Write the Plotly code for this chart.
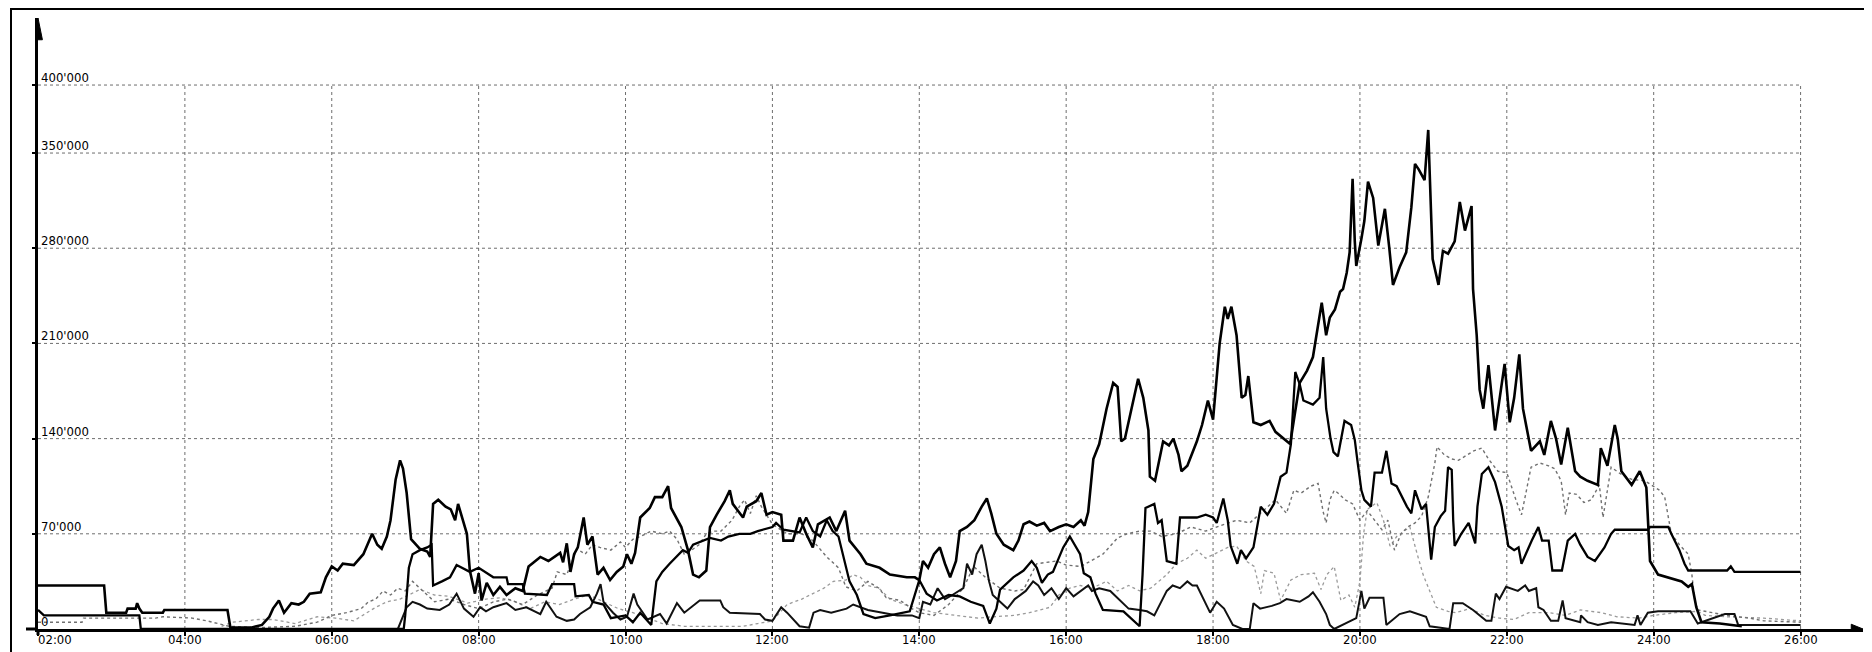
import plotly.graph_objects as go

# ---------------- data (hours of day, values in thousands) ----------------
x_tick_hours = [2, 4, 6, 8, 10, 12, 14, 16, 18, 20, 22, 24, 26]
x_tick_labels = ["02:00", "04:00", "06:00", "08:00", "10:00", "12:00", "14:00",
                 "16:00", "18:00", "20:00", "22:00", "24:00", "26:00"]
y_tick_values = [0, 70000, 140000, 210000, 280000, 350000, 400000]
y_tick_labels = ["0", "70'000", "140'000", "210'000", "280'000", "350'000", "400'000"]

series_a = [(2.0, 32), (2.9, 32), (2.93, 12), (3.2, 12), (3.22, 15), (3.33, 15), (3.35, 19), (3.38, 15),
            (3.42, 12), (3.7, 12), (3.72, 14), (4.58, 14), (4.62, 1), (4.9, 1), (5.05, 3), (5.15, 9),
            (5.2, 15), (5.28, 21), (5.35, 12), (5.45, 19), (5.55, 18), (5.62, 20), (5.7, 26), (5.85, 27),
            (5.92, 38), (6.0, 46), (6.08, 43), (6.15, 48), (6.3, 47), (6.43, 55), (6.55, 70), (6.62, 62),
            (6.68, 59), (6.75, 68), (6.8, 80), (6.87, 110), (6.93, 124), (6.97, 118), (7.02, 100),
            (7.08, 66), (7.2, 59), (7.3, 57), (7.34, 53), (7.38, 92), (7.45, 95), (7.55, 90), (7.62, 88),
            (7.68, 80), (7.72, 92), (7.77, 82), (7.84, 70), (7.88, 43), (7.95, 26), (8.0, 41), (8.04, 21),
            (8.11, 34), (8.2, 25), (8.29, 31), (8.38, 25), (8.5, 30), (8.6, 28), (8.68, 46), (8.84, 53),
            (8.95, 50), (9.11, 56), (9.15, 49), (9.2, 63), (9.25, 42), (9.3, 55), (9.35, 60), (9.43, 82),
            (9.48, 62), (9.55, 68), (9.62, 40), (9.7, 45), (9.79, 36), (9.88, 42), (9.97, 46), (10.02, 55),
            (10.08, 48), (10.13, 56), (10.2, 82), (10.33, 89), (10.4, 97), (10.5, 97), (10.58, 105),
            (10.62, 89), (10.76, 75), (10.85, 58), (10.92, 40), (11.0, 38), (11.1, 43), (11.15, 75),
            (11.24, 84), (11.35, 94), (11.42, 102), (11.46, 92), (11.6, 82), (11.65, 90), (11.78, 94),
            (11.85, 100), (11.92, 84), (12.0, 86), (12.12, 84), (12.15, 65), (12.28, 65), (12.37, 82),
            (12.46, 70), (12.55, 60), (12.62, 77), (12.78, 82), (12.87, 72), (12.99, 87), (13.05, 65),
            (13.2, 55), (13.28, 48), (13.46, 45), (13.6, 40), (13.83, 38), (13.94, 38), (14.0, 36),
            (14.05, 50), (14.12, 45), (14.2, 55), (14.28, 60), (14.35, 48), (14.42, 38), (14.5, 50),
            (14.55, 72), (14.65, 75), (14.75, 80), (14.85, 90), (14.92, 96), (14.98, 85), (15.05, 70),
            (15.15, 62), (15.28, 58), (15.35, 65), (15.42, 77), (15.5, 79), (15.6, 76), (15.7, 78),
            (15.78, 72), (15.9, 75), (16.0, 77), (16.1, 75), (16.2, 80), (16.25, 76), (16.3, 86),
            (16.37, 125), (16.45, 136), (16.55, 162), (16.64, 181), (16.7, 178), (16.75, 138), (16.8, 140),
            (16.87, 157), (16.98, 184), (17.05, 170), (17.12, 146), (17.14, 112), (17.21, 109), (17.32, 138),
            (17.4, 135), (17.46, 140), (17.53, 128), (17.57, 116), (17.65, 120), (17.78, 138), (17.85, 150),
            (17.93, 168), (18.0, 154), (18.05, 185), (18.09, 210), (18.16, 237), (18.2, 228), (18.25, 237),
            (18.32, 216), (18.39, 170), (18.44, 172), (18.48, 186), (18.55, 152), (18.65, 150), (18.77, 153),
            (18.85, 145), (18.96, 140), (19.05, 136), (19.11, 157), (19.18, 181), (19.28, 190), (19.36, 200),
            (19.42, 220), (19.48, 240), (19.54, 216), (19.59, 229), (19.66, 235), (19.73, 248), (19.77, 250),
            (19.82, 262), (19.86, 277), (19.9, 331), (19.93, 285), (19.95, 267), (20.02, 287), (20.06, 300),
            (20.11, 329), (20.18, 317), (20.25, 282), (20.34, 309), (20.4, 280), (20.45, 253), (20.54, 266),
            (20.63, 277), (20.7, 310), (20.75, 342), (20.8, 338), (20.88, 330), (20.93, 367), (20.95, 335),
            (20.99, 272), (21.07, 253), (21.13, 278), (21.2, 276), (21.29, 285), (21.36, 314), (21.43, 293),
            (21.52, 311), (21.54, 250), (21.59, 216), (21.63, 176), (21.68, 162), (21.75, 194), (21.84, 146),
            (21.9, 170), (21.97, 195), (22.04, 152), (22.1, 170), (22.17, 202), (22.22, 162), (22.33, 131),
            (22.4, 135), (22.45, 138), (22.51, 128), (22.6, 153), (22.67, 140), (22.74, 121), (22.83, 148),
            (22.93, 116), (23.0, 112), (23.1, 109), (23.24, 106), (23.28, 133), (23.37, 120), (23.47, 150),
            (23.51, 140), (23.56, 116), (23.7, 106), (23.81, 116), (23.9, 104), (23.95, 50), (24.06, 40),
            (24.2, 38), (24.38, 35), (24.47, 31), (24.52, 33), (24.58, 16), (24.65, 5), (24.9, 4), (25.2, 2)]

series_b = [(2.0, 14), (2.08, 10), (3.38, 10), (3.4, 0), (6.98, 0), (7.0, 10), (7.05, 45), (7.1, 55),
            (7.2, 58), (7.3, 60), (7.36, 62), (7.38, 32), (7.5, 35), (7.61, 38), (7.7, 47), (7.8, 44),
            (7.88, 42), (8.0, 45), (8.2, 38), (8.38, 38), (8.4, 33), (8.6, 33), (8.63, 26), (8.93, 25),
            (9.0, 33), (9.3, 33), (9.32, 24), (9.5, 25), (9.55, 20), (9.7, 18), (9.8, 8), (10.0, 10),
            (10.1, 5), (10.2, 12), (10.35, 3), (10.42, 35), (10.5, 42), (10.6, 48), (10.78, 58), (10.85, 56),
            (10.92, 62), (11.15, 67), (11.3, 65), (11.4, 68), (11.55, 70), (11.7, 70), (11.8, 72), (12.0, 75),
            (12.05, 78), (12.15, 73), (12.37, 71), (12.46, 82), (12.55, 72), (12.65, 68), (12.74, 80),
            (12.82, 72), (12.9, 68), (13.05, 35), (13.15, 25), (13.24, 11), (13.4, 8), (13.6, 10),
            (13.87, 13), (14.0, 36), (14.1, 26), (14.24, 21), (14.4, 25), (14.55, 24), (14.7, 20),
            (14.87, 17), (14.96, 4), (15.05, 15), (15.1, 29), (15.28, 38), (15.42, 43), (15.53, 50),
            (15.6, 45), (15.67, 34), (15.75, 40), (15.82, 42), (15.96, 60), (16.05, 68), (16.12, 62),
            (16.19, 55), (16.24, 41), (16.33, 38), (16.4, 26), (16.5, 14), (16.78, 13), (16.92, 6),
            (17.0, 2), (17.04, 40), (17.08, 89), (17.2, 92), (17.25, 78), (17.3, 80), (17.37, 50),
            (17.5, 48), (17.55, 82), (17.78, 82), (17.9, 84), (18.0, 82), (18.05, 78), (18.14, 96),
            (18.2, 80), (18.24, 61), (18.33, 48), (18.38, 58), (18.45, 52), (18.55, 60), (18.65, 90),
            (18.74, 84), (18.83, 92), (18.92, 112), (19.0, 115), (19.06, 136), (19.12, 189), (19.18, 180),
            (19.23, 168), (19.36, 165), (19.45, 170), (19.5, 200), (19.54, 162), (19.6, 140), (19.64, 130),
            (19.7, 127), (19.79, 153), (19.88, 150), (19.93, 139), (19.97, 122), (20.02, 102), (20.06, 95),
            (20.15, 90), (20.2, 115), (20.3, 115), (20.36, 131), (20.43, 107), (20.5, 105), (20.64, 90),
            (20.7, 85), (20.75, 102), (20.84, 88), (20.9, 92), (20.97, 51), (21.02, 75), (21.1, 83),
            (21.16, 87), (21.2, 119), (21.25, 117), (21.27, 80), (21.29, 61), (21.38, 70), (21.48, 78),
            (21.57, 63), (21.6, 90), (21.66, 114), (21.75, 119), (21.84, 108), (21.93, 90), (22.02, 61),
            (22.1, 58), (22.16, 60), (22.2, 48), (22.34, 65), (22.43, 75), (22.48, 65), (22.57, 65),
            (22.62, 43), (22.75, 43), (22.83, 65), (22.93, 70), (23.0, 62), (23.1, 53), (23.2, 50),
            (23.33, 60), (23.42, 70), (23.47, 73), (23.92, 73), (23.95, 75), (24.2, 75), (24.24, 70),
            (24.35, 58), (24.42, 48), (24.47, 43), (25.0, 43), (25.05, 46), (25.1, 42), (26.0, 42)]

series_c = [(4.6, 0), (6.9, 0), (7.02, 16), (7.1, 20), (7.2, 18), (7.3, 15), (7.47, 14), (7.6, 18),
            (7.7, 26), (7.8, 15), (7.93, 9), (8.02, 16), (8.1, 13), (8.2, 16), (8.38, 19), (8.5, 14),
            (8.65, 16), (8.84, 11), (8.92, 20), (9.06, 9), (9.2, 6), (9.3, 7), (9.38, 11), (9.52, 16),
            (9.61, 26), (9.66, 33), (9.7, 20), (9.83, 12), (9.93, 7), (10.02, 9), (10.11, 26), (10.16, 18),
            (10.3, 7), (10.47, 11), (10.56, 4), (10.7, 19), (10.8, 12), (11.01, 21), (11.29, 21),
            (11.33, 16), (11.42, 12), (11.83, 11), (11.9, 7), (12.0, 6), (12.12, 16), (12.2, 12),
            (12.37, 2), (12.5, 1), (12.56, 12), (12.65, 14), (12.8, 12), (13.01, 15), (13.1, 18),
            (13.3, 14), (13.5, 12), (13.7, 10), (13.9, 10), (14.0, 8), (14.05, 20), (14.15, 18),
            (14.25, 30), (14.35, 22), (14.45, 25), (14.6, 30), (14.65, 48), (14.72, 40), (14.78, 55),
            (14.85, 62), (14.9, 50), (14.95, 35), (15.0, 25), (15.1, 20), (15.2, 15), (15.3, 22),
            (15.45, 28), (15.55, 35), (15.62, 32), (15.7, 25), (15.8, 30), (15.9, 22), (16.0, 30),
            (16.1, 24), (16.2, 28), (16.3, 32), (16.35, 28), (16.45, 30), (16.6, 28), (16.75, 20),
            (16.85, 15), (17.0, 14), (17.1, 13), (17.2, 10), (17.3, 20), (17.37, 28), (17.45, 32),
            (17.55, 30), (17.65, 35), (17.72, 32), (17.78, 32), (17.96, 12), (18.05, 20), (18.15, 15),
            (18.27, 3), (18.4, 0), (18.5, 0), (18.55, 19), (18.64, 15), (18.8, 17), (18.91, 19),
            (19.0, 22), (19.18, 20), (19.3, 24), (19.36, 27), (19.45, 20), (19.54, 11), (19.59, 3),
            (19.65, 0), (19.95, 8), (20.02, 28), (20.06, 15), (20.13, 23), (20.32, 23), (20.36, 3),
            (20.5, 9), (20.54, 11), (20.68, 13), (20.9, 9), (20.95, 2), (21.22, 0), (21.27, 19),
            (21.4, 19), (21.54, 14), (21.72, 6), (21.79, 6), (21.85, 26), (21.9, 22), (21.99, 31),
            (22.15, 28), (22.25, 32), (22.3, 28), (22.4, 30), (22.43, 16), (22.5, 14), (22.6, 6),
            (22.7, 6), (22.76, 21), (22.8, 8), (23.0, 5), (23.01, 10), (23.1, 5), (23.24, 3), (23.42, 5),
            (23.6, 4), (23.74, 3), (23.78, 10), (23.82, 3), (23.92, 12), (24.06, 13), (24.5, 13),
            (24.6, 4), (24.97, 11), (25.1, 11), (25.15, 3), (25.8, 3), (26.0, 3)]

series_d = [(2.0, 5), (2.6, 5), (2.62, 8), (3.6, 8), (3.7, 9), (4.1, 8), (4.3, 6), (4.6, 2), (5.0, 1),
            (5.5, 2), (5.8, 5), (6.0, 10), (6.2, 12), (6.4, 15), (6.5, 20), (6.6, 22), (6.7, 28), (6.8, 25),
            (6.9, 30), (7.0, 28), (7.1, 35), (7.2, 30), (7.3, 25), (7.4, 20), (7.6, 22), (7.8, 18), (8.0, 15),
            (8.2, 20), (8.4, 22), (8.6, 18), (8.8, 25), (9.0, 30), (9.07, 42), (9.2, 40), (9.34, 59),
            (9.45, 55), (9.55, 62), (9.65, 60), (9.8, 58), (9.93, 64), (10.0, 60), (10.1, 66), (10.2, 68),
            (10.35, 72), (10.5, 70), (10.6, 72), (10.7, 66), (10.8, 55), (10.9, 58), (11.0, 62), (11.1, 70),
            (11.2, 72), (11.3, 72), (11.45, 80), (11.55, 90), (11.62, 95), (11.7, 85), (11.78, 98),
            (11.85, 90), (12.0, 77), (12.2, 70), (12.4, 70), (12.55, 65), (12.74, 53), (12.9, 45),
            (13.0, 31), (13.15, 28), (13.3, 35), (13.45, 30), (13.55, 23), (13.74, 21), (13.9, 15),
            (14.0, 12), (14.2, 10), (14.4, 18), (14.6, 30), (14.74, 46), (14.9, 38), (15.1, 30), (15.3, 28),
            (15.42, 29), (15.6, 48), (15.87, 50), (16.0, 47), (16.2, 46), (16.5, 55), (16.7, 67),
            (16.83, 70), (17.0, 72), (17.15, 72), (17.3, 68), (17.5, 70), (17.7, 75), (17.9, 72),
            (18.1, 76), (18.32, 80), (18.5, 78), (18.7, 88), (18.85, 95), (19.0, 85), (19.1, 102),
            (19.2, 100), (19.33, 105), (19.43, 107), (19.5, 86), (19.54, 78), (19.59, 95), (19.65, 102),
            (19.7, 100), (19.8, 95), (19.9, 92), (20.0, 80), (20.1, 87), (20.3, 73), (20.38, 80),
            (20.47, 58), (20.56, 70), (20.65, 75), (20.75, 78), (20.84, 83), (20.93, 97), (21.02, 122),
            (21.05, 134), (21.15, 128), (21.25, 125), (21.34, 124), (21.48, 129), (21.55, 131),
            (21.66, 133), (21.75, 125), (21.88, 116), (22.0, 115), (22.13, 94), (22.2, 84), (22.26, 100),
            (22.33, 119), (22.45, 122), (22.57, 120), (22.65, 118), (22.74, 109), (22.8, 84), (22.85, 100),
            (22.95, 99), (23.05, 93), (23.15, 95), (23.26, 106), (23.31, 82), (23.36, 100), (23.42, 119),
            (23.55, 114), (23.7, 110), (23.88, 109), (24.08, 102), (24.15, 97), (24.24, 70), (24.35, 62),
            (24.47, 55), (24.52, 40), (24.56, 21), (24.6, 14), (25.0, 10), (25.3, 8), (25.5, 6), (26.0, 5)]

series_e = [(4.5, 2), (4.65, 5), (5.0, 7), (5.2, 7), (5.5, 4), (5.8, 9), (6.05, 8), (6.3, 6), (6.6, 16),
            (6.75, 20), (6.93, 22), (7.2, 29), (7.4, 25), (7.6, 24), (7.85, 19), (8.1, 22), (8.3, 23),
            (8.5, 20), (8.7, 15), (8.9, 20), (9.1, 18), (9.3, 22), (9.5, 25), (9.7, 20), (9.9, 15),
            (10.1, 12), (10.3, 8), (10.5, 4), (10.8, 2), (11.0, 2), (11.6, 2), (11.8, 4), (12.0, 6),
            (12.2, 18), (12.4, 22), (12.55, 26), (12.7, 30), (12.83, 35), (13.0, 36), (13.1, 40),
            (13.2, 38), (13.3, 32), (13.45, 30), (13.6, 22), (13.8, 18), (14.0, 15), (14.2, 12),
            (14.5, 10), (14.8, 8), (15.0, 9), (15.3, 10), (15.5, 12), (15.78, 16), (15.9, 25), (16.05, 30),
            (16.19, 32), (16.35, 30), (16.55, 35), (16.7, 28), (16.85, 32), (17.0, 28), (17.15, 30),
            (17.37, 40), (17.5, 48), (17.65, 52), (17.78, 58), (17.9, 52), (18.05, 56), (18.2, 60),
            (18.32, 61), (18.45, 50), (18.56, 46), (18.65, 26), (18.7, 43), (18.83, 41), (18.92, 21),
            (19.06, 36), (19.2, 40), (19.38, 41), (19.47, 29), (19.55, 40), (19.65, 46), (19.74, 21),
            (19.85, 25), (19.93, 16), (20.0, 35), (20.05, 70), (20.1, 88), (20.23, 93), (20.32, 80),
            (20.41, 61), (20.5, 68), (20.6, 72), (20.68, 75), (20.78, 55), (20.86, 40), (20.95, 28),
            (21.04, 16), (21.2, 13), (21.3, 12), (21.5, 15), (21.7, 10), (21.9, 8), (22.1, 7), (22.3, 12),
            (22.57, 12), (22.8, 10), (23.0, 14), (23.29, 12), (23.5, 9), (23.8, 8), (24.0, 10), (24.3, 12),
            (24.6, 13), (24.7, 10), (25.0, 9), (25.5, 8), (26.0, 6)]

# ---------------- figure ----------------
# the page adds an 8 px body margin, so the figure is laid out 8 px up/left
W, H = 1872, 652
L, R, T, B = 30, 17, 10, 31
X_MAX = 26.85
Y_MAX = 449300

styles = [
    (series_e, dict(color="#9a9a9a", width=1.3, dash="dot")),
    (series_d, dict(color="#707070", width=1.4, dash="dot")),
    (series_c, dict(color="#111111", width=2.0)),
    (series_b, dict(color="#000000", width=2.3)),
    (series_a, dict(color="#000000", width=2.6)),
]

fig = go.Figure()
for pts, line in styles:
    t = [p[0] for p in pts]
    v = [p[1] * 1000 for p in pts]
    fig.add_trace(go.Scatter(x=t, y=v, mode="lines", line=line,
                             showlegend=False, hoverinfo="skip"))

shapes = []
grid = dict(color="#6e6e6e", width=1, dash="dot")
for yv in y_tick_values[1:]:
    shapes.append(dict(type="line", xref="x", yref="y", x0=2, x1=26, y0=yv, y1=yv,
                       line=grid, layer="below"))
for xv in x_tick_hours[1:]:
    shapes.append(dict(type="line", xref="x", yref="y", x0=xv, x1=xv, y0=0, y1=400000,
                       line=grid, layer="below"))
# arrow heads on the axes
shapes.append(dict(type="path", xref="x", yref="y", fillcolor="black", line=dict(color="black", width=1),
                   path=f"M {2-0.06},{Y_MAX-16000} L 2,{Y_MAX} L {2+0.06},{Y_MAX-16000} Z"))
shapes.append(dict(type="path", xref="x", yref="y", fillcolor="black", line=dict(color="black", width=1),
                   path=f"M {X_MAX-0.16},{-3500} L {X_MAX},0 L {X_MAX-0.16},{3500} Z"))

px_w = W - L - R
px_h = H - T - B


def px_x(fx):
    return (fx - L) / px_w


def px_y(fy):
    return (H - B - fy) / px_h


# scan frame lines
shapes.append(dict(type="line", xref="paper", yref="paper",
                   x0=px_x(3), x1=px_x(3), y0=px_y(H), y1=px_y(0),
                   line=dict(color="black", width=2)))
shapes.append(dict(type="line", xref="paper", yref="paper",
                   x0=px_x(3), x1=px_x(W), y0=px_y(1), y1=px_y(1),
                   line=dict(color="black", width=2)))
# axis stubs crossing at the origin
shapes.append(dict(type="line", xref="paper", yref="paper",
                   x0=px_x(L - 12), x1=0, y0=0, y1=0, line=dict(color="black", width=3)))
shapes.append(dict(type="line", xref="paper", yref="paper",
                   x0=0, x1=0, y0=px_y(H - B + 6), y1=0, line=dict(color="black", width=3)))

font = dict(family="Liberation Sans Narrow, DejaVu Sans Condensed, Arial Narrow, sans-serif",
            size=13, color="black")
annotations = []
for yv, lab in zip(y_tick_values, y_tick_labels):
    annotations.append(dict(x=2, y=yv, xref="x", yref="y", text=lab, showarrow=False,
                            xanchor="left", yanchor="bottom", xshift=1, yshift=-2, font=font))
for xv, lab in zip(x_tick_hours, x_tick_labels):
    annotations.append(dict(x=xv, y=0, xref="x", yref="y", text=lab, showarrow=False,
                            xanchor="left" if xv == 2 else "center", yanchor="top",
                            xshift=-2 if xv == 2 else 0, yshift=-1, font=font))

fig.update_layout(
    width=W, height=H, autosize=False,
    margin=dict(l=L, r=R, t=T, b=B, pad=0),
    paper_bgcolor="white", plot_bgcolor="white",
    shapes=shapes, annotations=annotations,
    xaxis=dict(range=[2, X_MAX], showgrid=False, zeroline=False, showline=True,
               linecolor="black", linewidth=3, ticks="outside", ticklen=4, tickwidth=2,
               tickcolor="black", tickvals=x_tick_hours, showticklabels=False),
    yaxis=dict(range=[0, Y_MAX], showgrid=False, zeroline=False, showline=True,
               linecolor="black", linewidth=3, ticks="outside", ticklen=3, tickwidth=2,
               tickcolor="black", tickvals=y_tick_values, showticklabels=False),
)

fig.write_html("out.html")
